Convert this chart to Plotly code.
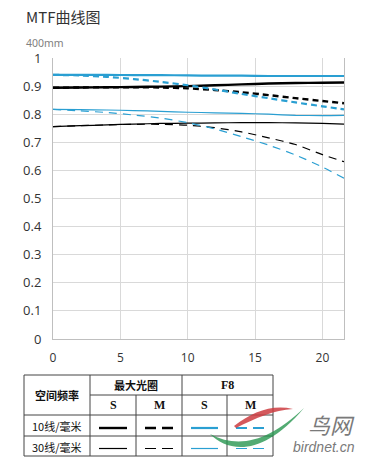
import plotly.graph_objects as go

# ---------------- data ----------------
field_mm = [0, 2, 4, 6, 8, 10, 12, 14, 16, 18, 20, 21.6]

max_s10 = [0.894, 0.895, 0.896, 0.897, 0.898, 0.900, 0.903, 0.906, 0.909, 0.911, 0.912, 0.913]
max_m10 = [0.894, 0.895, 0.896, 0.896, 0.895, 0.892, 0.886, 0.878, 0.868, 0.857, 0.847, 0.839]
f8_s10 = [0.940, 0.940, 0.940, 0.939, 0.939, 0.938, 0.937, 0.937, 0.936, 0.936, 0.936, 0.936]
f8_m10 = [0.940, 0.938, 0.933, 0.925, 0.915, 0.903, 0.888, 0.872, 0.857, 0.842, 0.828, 0.817]
max_s30 = [0.756, 0.759, 0.762, 0.765, 0.767, 0.768, 0.769, 0.770, 0.770, 0.769, 0.767, 0.765]
max_m30 = [0.756, 0.759, 0.762, 0.764, 0.764, 0.761, 0.752, 0.737, 0.716, 0.692, 0.656, 0.631]
f8_s30 = [0.817, 0.816, 0.815, 0.813, 0.810, 0.807, 0.805, 0.803, 0.800, 0.796, 0.795, 0.796]
f8_m30 = [0.817, 0.812, 0.806, 0.797, 0.786, 0.770, 0.748, 0.720, 0.690, 0.655, 0.612, 0.572]

x_ticks = [0, 5, 10, 15, 20]
y_ticks = [0, 0.1, 0.2, 0.3, 0.4, 0.5, 0.6, 0.7, 0.8, 0.9, 1]
y_tick_text = ["0", "0.1", "0.2", "0.3", "0.4", "0.5", "0.6", "0.7", "0.8", "0.9", "1"]

title_text = "MTF曲线图"
subtitle_text = "400mm"
table_row_head = "空间频率"
table_groups = ["最大光圈", "F8"]
table_sub = ["S", "M", "S", "M"]
table_rows = ["10线/毫米", "30线/毫米"]

BLACK = "#000000"
BLUE = "#2a9fd2"

series = [
    # name, values, color, width, dash, table row, table col
    ("最大光圈 S 10", max_s10, BLACK, 2.4, "solid", 0, 0),
    ("最大光圈 M 10", max_m10, BLACK, 2.4, "6px,4px", 0, 1),
    ("F8 S 10", f8_s10, BLUE, 2.2, "solid", 0, 2),
    ("F8 M 10", f8_m10, BLUE, 2.2, "6px,4px", 0, 3),
    ("最大光圈 S 30", max_s30, BLACK, 1.2, "solid", 1, 0),
    ("最大光圈 M 30", max_m30, BLACK, 1.2, "8px,6px", 1, 1),
    ("F8 S 30", f8_s30, BLUE, 1.2, "solid", 1, 2),
    ("F8 M 30", f8_m30, BLUE, 1.2, "8px,6px", 1, 3),
]

# ---------------- layout geometry (pixels) ----------------
W, H = 371, 472
PL, PR, PT, PB = 53, 344, 58, 339   # plot area edges


def px(xp):
    return (xp - PL) / (PR - PL)


def py(yp):
    return (PB - yp) / (PB - PT)


fig = go.Figure()
for name, vals, color, width, dash, r, c in series:
    fig.add_trace(go.Scatter(
        x=field_mm, y=vals, mode="lines", name=name,
        line=dict(color=color, width=width, dash=dash, shape="spline", smoothing=0.6),
        showlegend=False, hoverinfo="skip"))

shapes = []
annotations = []

# title + subtitle
annotations.append(dict(x=px(24), y=py(17), xref="paper", yref="paper", text=title_text,
                        showarrow=False, xanchor="left", yanchor="middle",
                        font=dict(family="Noto Sans CJK SC", size=15, color="#333333")))
annotations.append(dict(x=px(24), y=py(43), xref="paper", yref="paper", text=subtitle_text,
                        showarrow=False, xanchor="left", yanchor="middle",
                        font=dict(family="Noto Sans", size=10.5, color="#808080")))

# ---------------- table ----------------
col_x = [24, 90, 136, 182, 227, 273]
row_y = [375, 395, 415, 436, 456]
BC = "#444444"
line = dict(color=BC, width=1)


def hline(x0, x1, y):
    shapes.append(dict(type="line", xref="paper", yref="paper", x0=px(x0), x1=px(x1),
                       y0=py(y), y1=py(y), line=line))


def vline(x, y0, y1):
    shapes.append(dict(type="line", xref="paper", yref="paper", x0=px(x), x1=px(x),
                       y0=py(y0), y1=py(y1), line=line))


hline(col_x[0], col_x[-1], row_y[0])
hline(col_x[1], col_x[-1], row_y[1])
for yy in row_y[2:]:
    hline(col_x[0], col_x[-1], yy)
vline(col_x[0], row_y[0], row_y[-1])
vline(col_x[1], row_y[0], row_y[-1])
vline(col_x[3], row_y[0], row_y[-1])
vline(col_x[5], row_y[0], row_y[-1])
vline(col_x[2], row_y[1], row_y[-1])
vline(col_x[4], row_y[1], row_y[-1])

TF_CJK = dict(family="Noto Sans CJK SC", size=11, color="#111111")
TF_SER = dict(family="Liberation Serif", size=12, color="#111111")


def label(x, y, text, font):
    annotations.append(dict(x=px(x), y=py(y), xref="paper", yref="paper", text=text,
                            showarrow=False, xanchor="center", yanchor="middle", font=font))


label((col_x[0] + col_x[1]) / 2, (row_y[0] + row_y[2]) / 2, "<b>" + table_row_head + "</b>", TF_CJK)
label((col_x[1] + col_x[3]) / 2, (row_y[0] + row_y[1]) / 2, "<b>" + table_groups[0] + "</b>", TF_CJK)
label((col_x[3] + col_x[5]) / 2, (row_y[0] + row_y[1]) / 2, "<b>" + table_groups[1] + "</b>", TF_SER)
for i, s in enumerate(table_sub):
    label((col_x[i + 1] + col_x[i + 2]) / 2, (row_y[1] + row_y[2]) / 2, "<b>" + s + "</b>", TF_SER)
for i, t in enumerate(table_rows):
    label((col_x[0] + col_x[1]) / 2, (row_y[i + 2] + row_y[i + 3]) / 2 + 0.5, t,
          dict(family="Noto Sans CJK SC", size=11, color="#111111"))

# sample lines in the table, styled from the series
for name, vals, color, width, dash, r, c in series:
    cx0, cx1 = col_x[c + 1], col_x[c + 2]
    yy = (row_y[r + 2] + row_y[r + 3]) / 2 + 2.5
    shapes.append(dict(type="line", xref="paper", yref="paper",
                       x0=px(cx0 + 9), x1=px(cx1 - 9), y0=py(yy), y1=py(yy),
                       line=dict(color=color, width=width,
                                 dash="solid" if dash == "solid" else "11px,6px")))

# ---------------- watermark ----------------
def path_px(pts):
    s = "M %.4f,%.4f" % (px(pts[0][0]), py(pts[0][1]))
    rest = pts[1:]
    for i in range(0, len(rest), 3):
        a, b, cc = rest[i], rest[i + 1], rest[i + 2]
        s += " C %.4f,%.4f %.4f,%.4f %.4f,%.4f" % (px(a[0]), py(a[1]), px(b[0]), py(b[1]), px(cc[0]), py(cc[1]))
    return s + " Z"


red_pts = [(234, 426), (252, 412), (272, 404), (293, 409),
           (274, 410), (256, 418), (236, 428)]
green_pts = [(210, 434), (228, 452), (262, 458), (304, 408),
             (270, 440), (240, 450), (210, 434)]
shapes.append(dict(type="path", xref="paper", yref="paper", path=path_px(red_pts),
                   fillcolor="rgba(205,60,65,0.85)", line=dict(width=0)))
shapes.append(dict(type="path", xref="paper", yref="paper", path=path_px(green_pts),
                   fillcolor="rgba(40,150,80,0.8)", line=dict(width=0)))
annotations.append(dict(x=px(331), y=py(424), xref="paper", yref="paper", text="<i>鸟网</i>",
                        showarrow=False, xanchor="center", yanchor="middle",
                        font=dict(family="Noto Sans CJK SC", size=22, color="#7a7a7a")))
annotations.append(dict(x=px(324), y=py(447), xref="paper", yref="paper", text="<i>birdnet.cn</i>",
                        showarrow=False, xanchor="center", yanchor="middle",
                        font=dict(family="Liberation Sans", size=14, color="#7a7a7a")))

fig.update_layout(
    width=W, height=H,
    margin=dict(l=PL, r=W - PR, t=PT, b=H - PB, pad=0),
    paper_bgcolor="white", plot_bgcolor="white",
    shapes=shapes, annotations=annotations,
    xaxis=dict(range=[0, 21.6], tickmode="array", tickvals=x_ticks,
               showgrid=True, gridcolor="#d9d9d9", gridwidth=1,
               showline=True, linecolor="#bfbfbf", linewidth=1, mirror=False,
               zeroline=False, ticks="", ticklabelstandoff=8, automargin=False,
               tickfont=dict(family="Open Sans", size=12, color="#333333"),
               fixedrange=True),
    yaxis=dict(range=[0, 1], tickmode="array", tickvals=y_ticks, ticktext=y_tick_text,
               showgrid=True, gridcolor="#d9d9d9", gridwidth=1,
               showline=True, linecolor="#bfbfbf", linewidth=1, mirror=True,
               zeroline=False, ticks="", ticklabelstandoff=8, automargin=False,
               tickfont=dict(family="Open Sans", size=13, color="#333333"),
               fixedrange=True),
)

fig.write_html("out.html", config={"displayModeBar": False},
               post_script="document.body.style.margin='0';document.body.style.overflow='hidden';")
